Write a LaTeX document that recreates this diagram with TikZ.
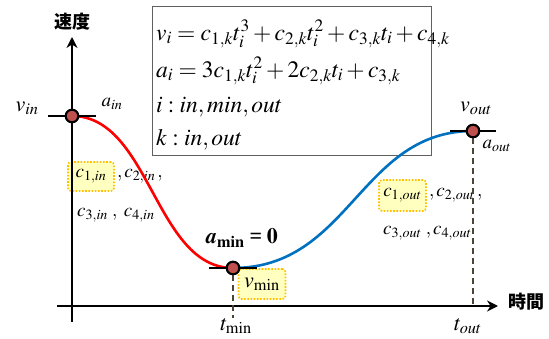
\documentclass[tikz,border=0pt]{standalone}
\usepackage{amsmath}
\usepackage{mathptmx}
\usepackage[no-math]{fontspec}
\setmainfont{Liberation Serif}
\newfontfamily\cjk{Noto Sans CJK JP}
\usetikzlibrary{arrows.meta}
\DeclareMathAlphabet{\mathbi}{OT1}{ptm}{b}{it}
\definecolor{cred}{HTML}{FF0000}
\definecolor{cblue}{HTML}{0070C0}
\definecolor{cpt}{HTML}{C0504D}
\definecolor{cdash}{HTML}{4A4536}
\definecolor{yfill}{HTML}{FFFFC0}
\definecolor{yline}{HTML}{FFC000}
\definecolor{boxline}{HTML}{606060}
\begin{document}
\begin{tikzpicture}[x=1pt,y=-1pt,
  axisline/.style={line width=2.6pt,-{Stealth[length=11pt,width=11pt]}},
  curveline/.style={line width=2.6pt},
  tickline/.style={line width=2.8pt},
  ptnode/.style={circle,draw=black,line width=2pt,fill=cpt,minimum size=12.5pt,inner sep=0pt},
  dline/.style={cdash,line width=2pt,dash pattern=on 6pt off 4pt},
  ybox/.style={draw=yline,fill=yfill,line width=1.6pt,dash pattern=on 1.6pt off 1.6pt,rounded corners=3pt,inner sep=0pt},
  lbl/.style={inner sep=0pt,font=\fontsize{22}{26}\selectfont},
  slbl/.style={inner sep=0pt,font=\fontsize{19}{22}\selectfont},
  clbl/.style={inner sep=0pt,font=\fontsize{19}{22}\selectfont},
  fml/.style={inner sep=0pt,anchor=west,font=\fontsize{23.5}{27}\selectfont},
  cjklbl/.style={inner sep=0pt,font=\cjk\bfseries\fontsize{18}{20}\selectfont}]
\useasboundingbox (0,0) rectangle (549,339);
% formula box
\draw[boxline,line width=1pt] (152,7) rectangle (431,156);
\node[fml] (f1) at (156,34) {$v_i = c_{1,k}t_i^3 + c_{2,k}t_i^2 + c_{3,k}t_i + c_{4,k}$};
\node[fml] (f2) at (156,71) {$a_i = 3c_{1,k}t_i^2 + 2c_{2,k}t_i + c_{3,k}$};
\node[fml] (f3) at (156,107) {$i : in, min, out$};
\node[fml] (f4) at (156,140) {$k : in, out$};
% yellow boxes
\node[ybox,clbl,minimum width=46pt,minimum height=29pt] (c1in) at (91,176.5) {$c_{1,in}$};
\node[clbl,anchor=base west] (c2in) at (c1in.base east) {$\,,c_{2,in}\,,$};
\node[clbl,anchor=west] (c34in) at (77,215) {$c_{3,in}\;,\;c_{4,in}$};
\node[ybox,clbl,minimum width=47pt,minimum height=31pt] (c1out) at (402.5,195.5) {$c_{1,out}$};
\node[clbl,anchor=base west] (c2out) at (c1out.base east) {$\,,c_{2,out}\,,$};
\node[clbl,anchor=west] (c34out) at (383,233) {$c_{3,out}\;,c_{4,out}$};
\node[ybox,lbl,minimum width=47pt,minimum height=30pt] (vmin) at (262,284) {$v_{\mathrm{min}}$};
% axes
\coordinate (yb) at (72,322);
\coordinate (yt) at (72,37);
\coordinate (xl) at (57,306);
\coordinate (xr) at (498,306);
\draw[axisline] (yb) -- (yt);
\draw[axisline] (xl) -- (xr);
% points
\node[ptnode] (pin) at (72,116) {};
\node[ptnode] (pmin) at (233,268) {};
\node[ptnode] (pout) at (473,131) {};
\coordinate (tminEnd) at (233,318);
\coordinate (toutEnd) at (473,306);
\draw[dline] (pmin.south) -- (tminEnd);
\draw[dline] (pout.south) -- (toutEnd);
% curves
\draw[curveline,cred] (pin.center) .. controls (150,116) and (155,268) .. (pmin.center);
\draw[curveline,cblue] (pmin.center) .. controls (350,268) and (360,131) .. (pout.center);
% ticks
\draw[tickline] ([xshift=-24pt]pin.center) -- ([xshift=24pt]pin.center);
\draw[tickline] ([xshift=-24pt]pmin.center) -- ([xshift=24pt]pmin.center);
\draw[tickline] ([xshift=-23pt]pout.center) -- ([xshift=23pt]pout.center);
\node[ptnode] at (pin.center) {};
\node[ptnode] at (pmin.center) {};
\node[ptnode] at (pout.center) {};
% labels
\node[lbl] (vin) at (27,108) {$v_{in}$};
\node[slbl] (ain) at (112,104) {$a_{in}$};
\node[lbl] (amin) at (242,238) {$\mathbi{a}_{\mathbf{min}}\mathrel{\textbf{=}}\mathbf{0}$};
\node[lbl] (tmin) at (236,326) {$t_{\mathrm{min}}$};
\node[lbl] (vout) at (476,108) {$v_{out}$};
\node[slbl] (aout) at (497,146) {$a_{out}$};
\node[lbl] (tout) at (468,326) {$t_{out}$};
\node[cjklbl] (vel) at (72,22) {速度};
\node[cjklbl] (tim) at (526,302) {時間};
\end{tikzpicture}
\end{document}
